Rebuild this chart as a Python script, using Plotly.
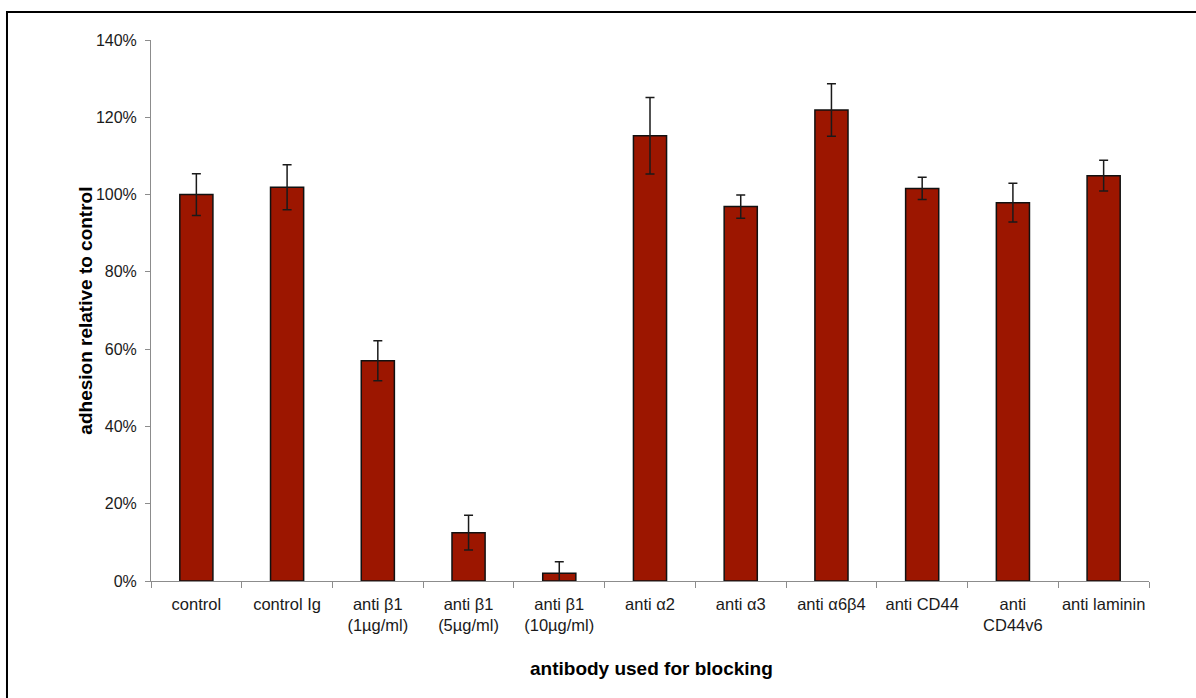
import plotly.graph_objects as go

# Adhesion relative to control, per blocking antibody
categories = [
    "control",
    "control Ig",
    "anti β1<br>(1µg/ml)",
    "anti β1<br>(5µg/ml)",
    "anti β1<br>(10µg/ml)",
    "anti α2",
    "anti α3",
    "anti α6β4",
    "anti CD44",
    "anti<br>CD44v6",
    "anti laminin",
]
adhesion_pct = [100.0, 101.9, 57.0, 12.5, 2.0, 115.2, 96.9, 121.9, 101.6, 97.9, 104.9]
error_pct = [5.4, 5.8, 5.2, 4.5, 3.0, 9.9, 3.0, 6.8, 2.9, 5.0, 4.0]

y_ticks = [0, 20, 40, 60, 80, 100, 120, 140]

BAR_RED = "#9C1600"
FONT = "Liberation Sans, Arial, sans-serif"

fig = go.Figure()
fig.add_trace(
    go.Bar(
        x=categories,
        y=adhesion_pct,
        marker=dict(color=BAR_RED, line=dict(color="#111111", width=1.5)),
        error_y=dict(
            type="data",
            array=error_pct,
            visible=True,
            color="#1a1a1a",
            thickness=1.5,
            width=4.5,
        ),
        showlegend=False,
    )
)

fig.update_layout(
    width=1196,
    height=698,
    margin=dict(l=151, r=47, t=40, b=117),
    paper_bgcolor="white",
    plot_bgcolor="white",
    bargap=0.635,
    font=dict(family=FONT, color="#1a1a1a", size=16),
)

fig.update_xaxes(
    showline=True,
    linecolor="#8c8c8c",
    linewidth=1,
    ticks="outside",
    tickson="boundaries",
    ticklen=6,
    tickcolor="#8c8c8c",
    tickangle=0,
    ticklabelstandoff=8,
    tickfont=dict(family=FONT, size=16.5, color="#1a1a1a"),
    showgrid=False,
    zeroline=False,
)
fig.update_yaxes(
    range=[0, 140],
    tickvals=y_ticks,
    ticktext=[f"{v}%" for v in y_ticks],
    showline=True,
    linecolor="#8c8c8c",
    linewidth=1,
    ticks="outside",
    ticklen=5,
    tickcolor="#8c8c8c",
    ticklabelstandoff=5,
    tickfont=dict(family=FONT, size=16, color="#1a1a1a"),
    showgrid=False,
    zeroline=False,
)

# Axis titles
fig.add_annotation(
    text="<b>adhesion relative to control</b>",
    xref="paper", yref="paper",
    x=-0.066, y=0.5,
    xanchor="center", yanchor="middle",
    textangle=-90,
    showarrow=False,
    font=dict(family=FONT, size=19, color="#000000"),
)
fig.add_annotation(
    text="<b>antibody used for blocking</b>",
    xref="paper", yref="paper",
    x=0.502, y=-0.161,
    xanchor="center", yanchor="middle",
    showarrow=False,
    font=dict(family=FONT, size=19, color="#000000"),
)

# Outer frame around the chart
fig.add_shape(
    type="rect",
    xref="paper", yref="paper",
    x0=-0.1443, x1=1.2,
    y0=-0.4, y1=1.0518,
    line=dict(color="#000000", width=2),
    fillcolor="rgba(0,0,0,0)",
    layer="below",
)

fig.write_html("out.html")
